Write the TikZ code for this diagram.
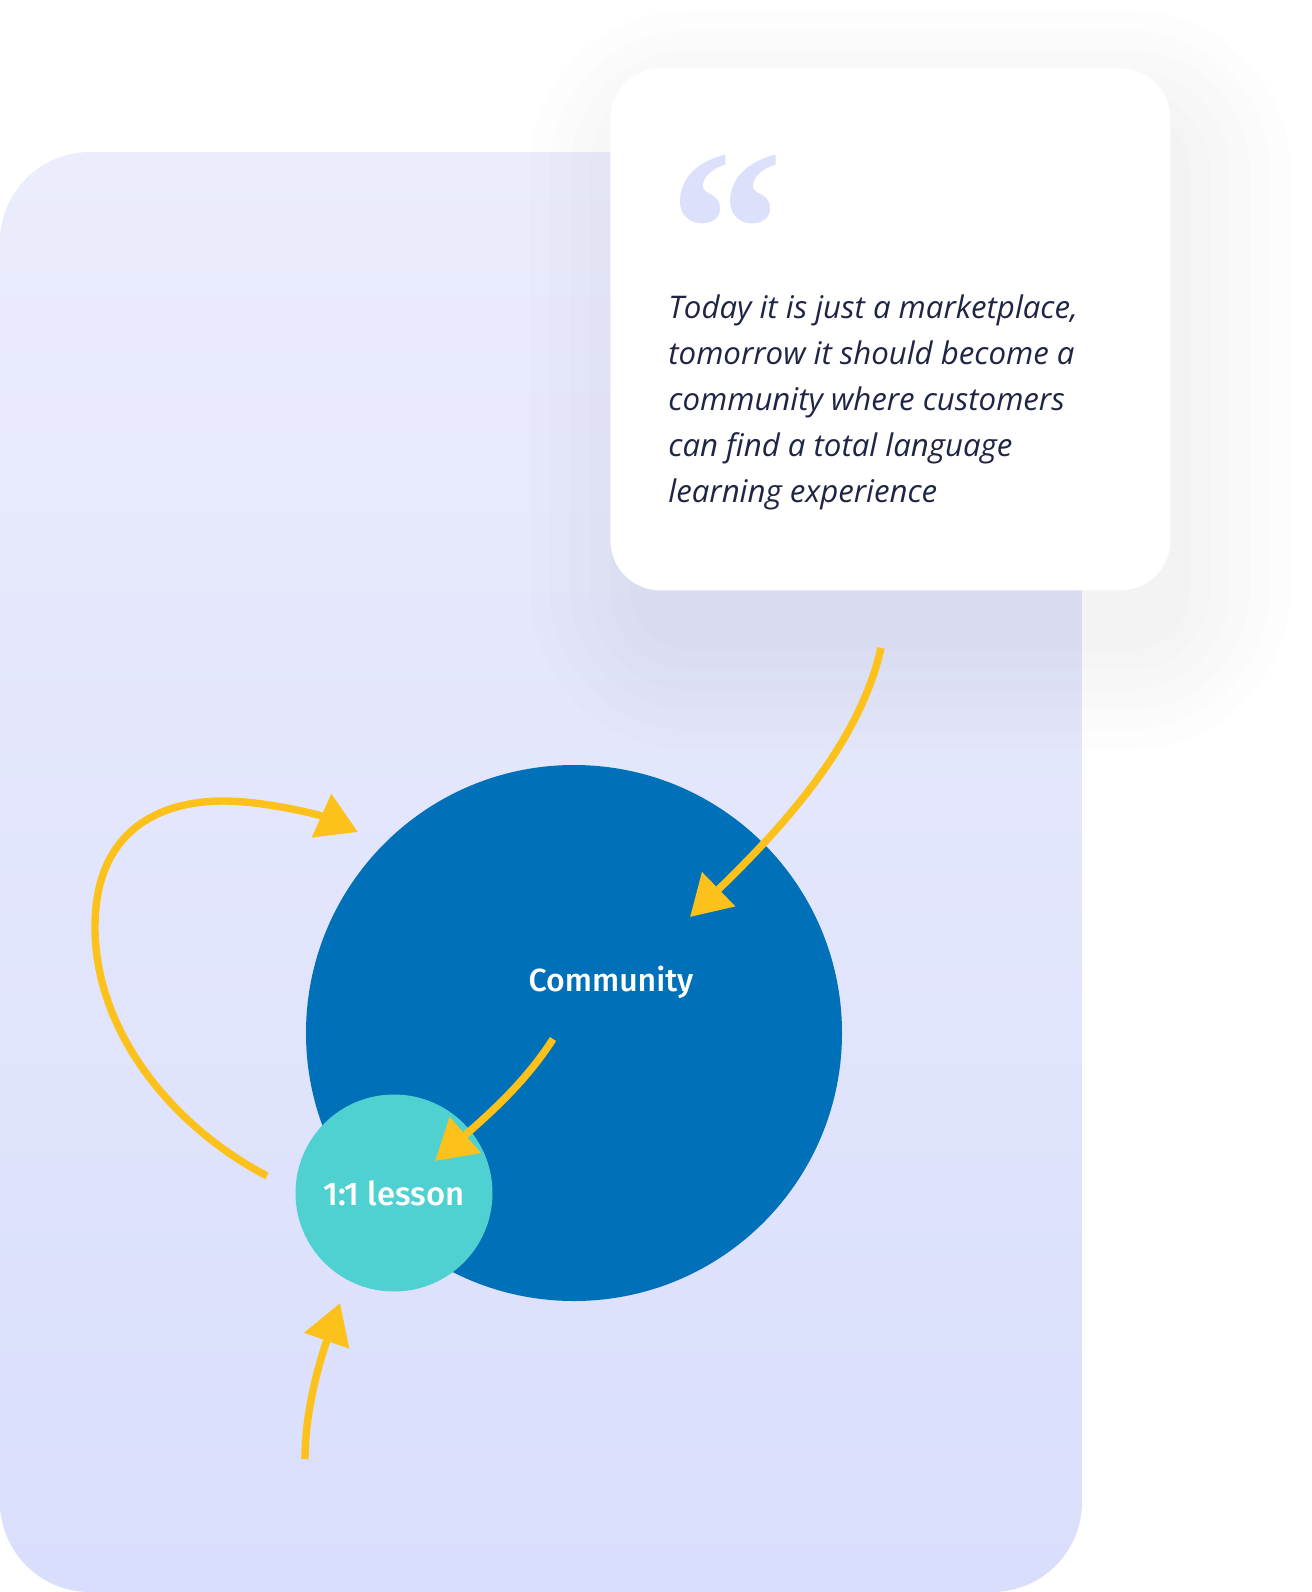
\documentclass[tikz,border=0pt]{standalone}
\usepackage{fontspec}
\setmainfont{Open Sans}
\newfontfamily\quotefont{Liberation Serif}
\newfontfamily\labelfont{Fira Sans Medium}
\usepackage{tikz}
\definecolor{paneltop}{HTML}{EBEDFC}
\definecolor{panelbottom}{HTML}{D9DEFC}
\definecolor{quotemark}{HTML}{DCE0FA}
\definecolor{quoteink}{HTML}{1F2544}
\definecolor{communityblue}{HTML}{0070B8}
\definecolor{lessonteal}{HTML}{4FD1D1}
\definecolor{arrowyellow}{HTML}{FCC11A}
\usetikzlibrary{arrows.meta, positioning, calc}

\begin{document}
\begin{tikzpicture}[
    x=0.5pt, y=-0.5pt,
    flow/.style={draw=arrowyellow, line width=3.7pt,
                 -{Triangle[length=20pt, width=23pt]}},
    bubble/.style={circle, fill=#1, inner sep=0pt, text=white,
                   font=\labelfont\fontsize{16.4}{19}\selectfont}
]
    \useasboundingbox (0,0) rectangle (1312,1592);
    \fill[white] (0,0) rectangle (1312,1592);

    % background panel
    \shade[top color=paneltop, bottom color=panelbottom, rounded corners=45pt]
        (0,152) rectangle (1082,1592);

    % soft shadow under the quote card
    \foreach \s [evaluate=\s as \r using 25+\s/2] in {10,30,...,110}
        \fill[black!70!blue, opacity=0.007, rounded corners=\r pt]
            (640-\s,120-\s) rectangle (1180+\s,640+\s);

    % quote card
    \node[fill=white, rounded corners=25pt, minimum width=280pt, minimum height=261pt,
          anchor=north west, inner sep=0pt] (card) at (610,68) {};
    \node[anchor=north west, inner sep=0pt, text=quotemark,
          font=\quotefont\bfseries\fontsize{114}{114}\selectfont] (mark) at (669,154) {“};
    \node[anchor=north west, inner sep=0pt, align=left, text=quoteink,
          font=\itshape\fontsize{15.6}{23.1}\selectfont] (quote) at (668,294)
        {Today it is just a marketplace,\\
         tomorrow it should become a\\
         community where customers\\
         can find a total language\\
         learning experience};

    % circles
    \node[bubble=communityblue, minimum size=268pt] (community) at (574,1033) {};
    \node[text=white, font=\labelfont\fontsize{16}{19}\selectfont]
        (communitylabel) at (611,982) {Community};
    \node[bubble=lessonteal, minimum size=98.5pt] (lesson) at (394,1193) {1:1 lesson};

    % arrow ends
    \coordinate (cardfoot) at (881,648);
    \coordinate (communityin) at (690,917);
    \coordinate (communityout) at (553,1039);
    \coordinate (lessonin) at (435,1161);
    \coordinate (lessonleft) at (267,1176);
    \coordinate (communityleft) at (358,832);
    \coordinate (newcomer) at (305,1459);
    \coordinate (lessonfoot) at (340,1303);

    \draw[flow] (cardfoot) .. controls (860,740) and (790,820) .. (communityin);
    \draw[flow] (communityout) .. controls (530,1075) and (500,1105) .. (lessonin);
    \draw[flow] (lessonleft) .. controls (170,1125) and (95,1030) .. (95,927)
        .. controls (95,830) and (160,801) .. (223,801)
        .. controls (265,801) and (320,815) .. (communityleft);
    \draw[flow] (newcomer) .. controls (305,1410) and (320,1360) .. (lessonfoot);
\end{tikzpicture}
\end{document}
